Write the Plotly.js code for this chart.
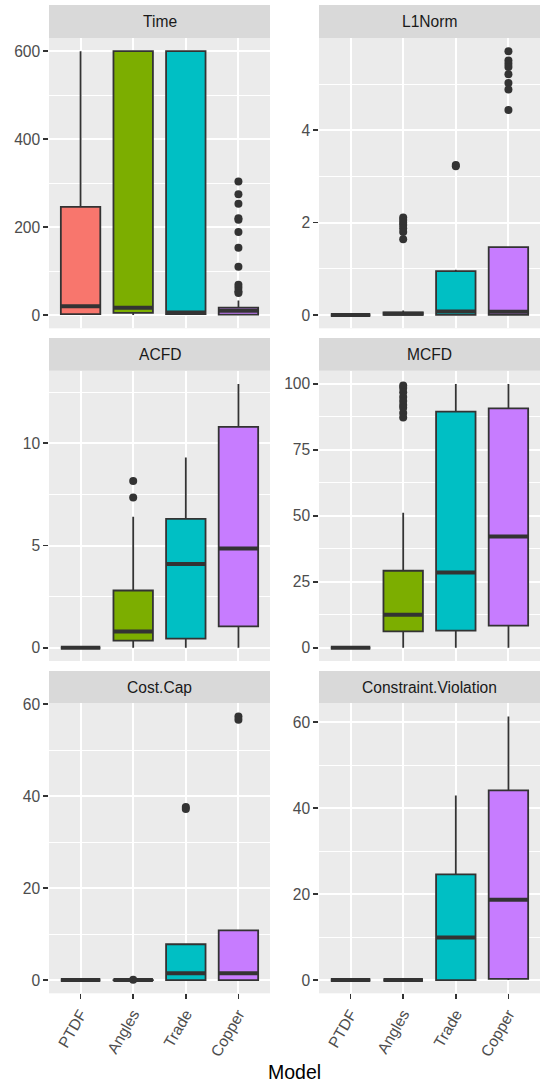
<!DOCTYPE html>
<html>
<head>
<meta charset="utf-8">
<script src="https://cdn.plot.ly/plotly-3.0.1.min.js"></script>
<style>html,body{margin:0;padding:0;background:#fff;}#chart{width:540px;height:1085px;}</style>
</head>
<body>
<div id="chart"></div>
<script>
// ---- data ----
const models = ['PTDF', 'Angles', 'Trade', 'Copper'];
const metrics = ['Time', 'L1Norm', 'ACFD', 'MCFD', 'Cost.Cap', 'Constraint.Violation'];
const fillColors = ['#F8766D', '#7CAE00', '#00BFC4', '#C77CFF'];

// rows = metrics, columns = models
const lowerFence = [
  [0, 0, 0, 0],
  [0, 0, 0, 0],
  [0, 0, 0, 0],
  [0, 0, 0, 0],
  [0, 0, 0, 0],
  [0, 0, 0, 0]
];
const q1 = [
  [2, 5, 2, 1],
  [0, 0.005, 0.005, 0.005],
  [0, 0.35, 0.45, 1.05],
  [0, 6.2, 6.5, 8.4],
  [0, 0, 0, 0],
  [0, 0, 0, 0.3]
];
const median = [
  [20, 17, 6, 10],
  [0, 0.03, 0.08, 0.07],
  [0, 0.8, 4.1, 4.85],
  [0, 12.5, 28.5, 42.2],
  [0, 0, 1.5, 1.5],
  [0, 0, 9.9, 18.7]
];
const q3 = [
  [246, 600, 600, 17],
  [0, 0.06, 0.95, 1.47],
  [0, 2.8, 6.3, 10.8],
  [0, 29.2, 89.5, 90.7],
  [0, 0.02, 7.8, 10.8],
  [0, 0, 24.6, 44.1]
];
const upperFence = [
  [600, 600, 600, 33],
  [0, 0.1, 0.98, 1.47],
  [0, 6.4, 9.3, 12.9],
  [0, 51.2, 100, 100],
  [0, 0.03, 7.8, 10.8],
  [0, 0, 42.9, 61.3]
];
const outliers = [
  [[], [], [], [304, 275, 253, 220, 217, 189, 153, 110, 69, 62, 54, 50]],
  [[], [2.11, 2.06, 2.0, 1.95, 1.88, 1.80, 1.64], [3.25, 3.22], [5.71, 5.51, 5.44, 5.37, 5.21, 5.02, 4.88, 4.44]],
  [[], [8.15, 7.35], [], []],
  [[], [99.4, 98.4, 96.8, 95, 93.5, 92, 91, 89, 87.3], [], []],
  [[], [0.1], [37.6, 37.2], [57.3, 56.6]],
  [[], [], [], []]
];
const yTickStep = [200, 2, 5, 25, 20, 20];

// ---- layout geometry (pixels) ----
const W = 540, H = 1085;
const colX = [[49, 270], [319, 540]];
const rowPlot = [[38, 328.3], [370.7, 661], [703.3, 993.3]];
const rowStrip = [[5, 38], [338, 370.7], [671, 703.3]];
const px = v => v / W;
const py = v => 1 - v / H;
const FONT = 'Liberation Sans, Arial, sans-serif';
const boxW = 0.75;

const traces = [];
const layout = {
  width: W, height: H,
  margin: {l: 0, r: 0, t: 0, b: 0},
  paper_bgcolor: '#FFFFFF',
  plot_bgcolor: '#EBEBEB',
  showlegend: false,
  hovermode: false,
  shapes: [],
  annotations: []
};

metrics.forEach((name, i) => {
  const row = Math.floor(i / 2), col = i % 2, k = i + 1;
  const xa = 'x' + k, ya = 'y' + k;
  // y range: data extent + 5% expansion
  let vals = [].concat(lowerFence[i], upperFence[i], ...outliers[i]);
  const mn = Math.min(...vals), mx = Math.max(...vals);
  const pad = (mx - mn) * 0.05;
  const isBottom = row === 2;

  layout['xaxis' + k] = {
    domain: [px(colX[col][0]), px(colX[col][1])],
    anchor: ya,
    range: [0.4, 4.6],
    tickmode: 'array',
    tickvals: [1, 2, 3, 4],
    ticktext: models,
    showticklabels: isBottom,
    ticks: isBottom ? 'outside' : '',
    ticklen: 4.7, tickwidth: 1.6, tickcolor: '#333333',
    tickangle: -60,
    tickfont: {family: FONT, size: 15.6, color: '#4D4D4D'},
    showgrid: true, gridcolor: '#FFFFFF', gridwidth: 2,
    zeroline: false, showline: false, automargin: false, fixedrange: true
  };
  layout['yaxis' + k] = {
    domain: [py(rowPlot[row][1]), py(rowPlot[row][0])],
    anchor: xa,
    range: [mn - pad, mx + pad],
    tick0: 0, dtick: yTickStep[i],
    ticks: 'outside', ticklen: 4.7, tickwidth: 1.6, tickcolor: '#333333',
    tickfont: {family: FONT, size: 15.6, color: '#4D4D4D'},
    showgrid: true, gridcolor: '#FFFFFF', gridwidth: 2,
    minor: {dtick: yTickStep[i] / 2, tick0: 0, showgrid: true, gridcolor: '#FFFFFF', gridwidth: 1, ticks: ''},
    zeroline: false, showline: false, automargin: false, fixedrange: true
  };

  // strip
  layout.shapes.push({
    type: 'rect', xref: 'paper', yref: 'paper', layer: 'below',
    x0: px(colX[col][0]), x1: px(colX[col][1]),
    y0: py(rowStrip[row][1]), y1: py(rowStrip[row][0]),
    fillcolor: '#D9D9D9', line: {width: 0}
  });
  layout.annotations.push({
    xref: 'paper', yref: 'paper', showarrow: false,
    x: px((colX[col][0] + colX[col][1]) / 2),
    y: py((rowStrip[row][0] + rowStrip[row][1]) / 2),
    xanchor: 'center', yanchor: 'middle',
    text: name, font: {family: FONT, size: 15.6, color: '#1A1A1A'}
  });

  // boxes
  models.forEach((m, j) => {
    traces.push({
      type: 'box', xaxis: xa, yaxis: ya,
      x: [j + 1],
      q1: [q1[i][j]], median: [median[i][j]], q3: [q3[i][j]],
      lowerfence: [lowerFence[i][j]], upperfence: [upperFence[i][j]],
      width: boxW, whiskerwidth: 0,
      fillcolor: fillColors[j],
      line: {color: '#333333', width: 1.8},
      boxpoints: false, hoverinfo: 'skip', name: m
    });
  });
  // thick median lines
  const mx_ = [], my_ = [];
  models.forEach((m, j) => {
    mx_.push(j + 1 - boxW / 2, j + 1 + boxW / 2, null);
    my_.push(median[i][j], median[i][j], null);
  });
  traces.push({
    type: 'scatter', mode: 'lines', xaxis: xa, yaxis: ya,
    x: mx_, y: my_, line: {color: '#333333', width: 4}, hoverinfo: 'skip'
  });
  // outliers
  const ox = [], oy = [];
  models.forEach((m, j) => {
    outliers[i][j].forEach(v => { ox.push(j + 1); oy.push(v); });
  });
  if (ox.length) {
    traces.push({
      type: 'scatter', mode: 'markers', xaxis: xa, yaxis: ya,
      x: ox, y: oy, marker: {color: '#333333', size: 8}, hoverinfo: 'skip', cliponaxis: false
    });
  }
});

// x axis title
layout.annotations.push({
  xref: 'paper', yref: 'paper', showarrow: false,
  x: px((colX[0][0] + colX[1][1]) / 2), y: py(1072),
  xanchor: 'center', yanchor: 'middle',
  text: 'Model', font: {family: FONT, size: 19.5, color: '#000000'}
});

Plotly.newPlot('chart', traces, layout, {staticPlot: true, displayModeBar: false});
</script>
</body>
</html>
